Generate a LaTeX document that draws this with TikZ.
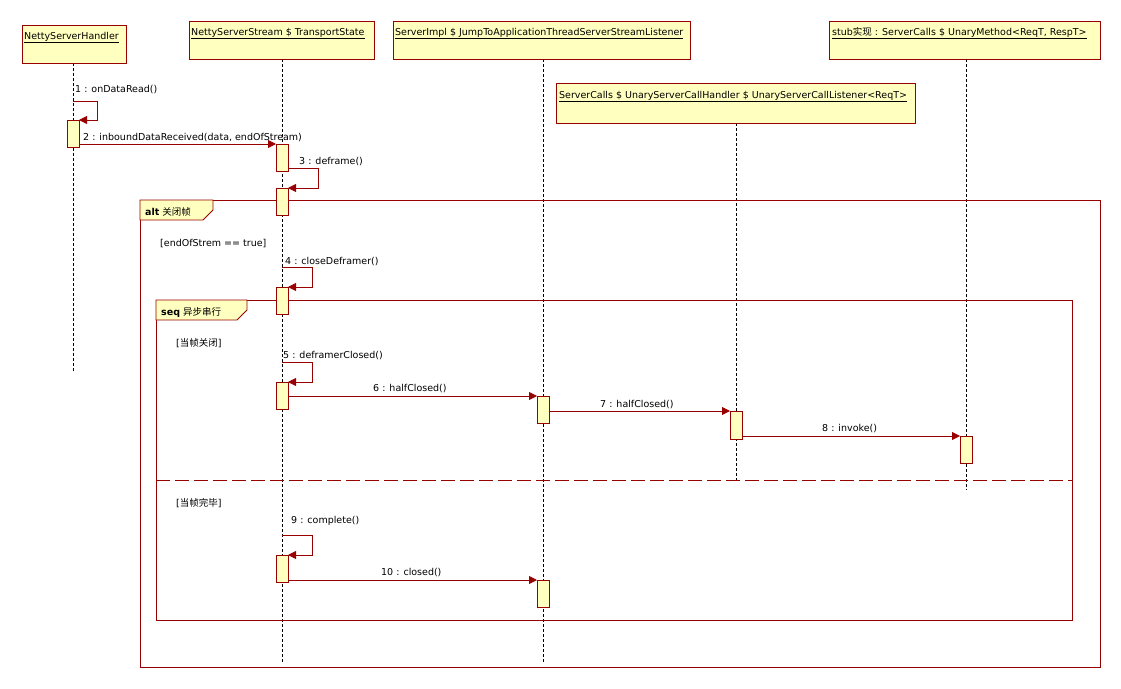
\documentclass[tikz,border=0pt]{standalone}
\usepackage{fontspec}
\setmainfont{DejaVu Sans}
\newfontfamily\cjk{Noto Sans CJK SC}
\usetikzlibrary{arrows.meta}
\definecolor{dr}{HTML}{990000}
\definecolor{yl}{HTML}{FFFFC0}
\begin{document}
\begin{tikzpicture}[x=1pt,y=-1pt,font=\fontsize{9.5}{11}\selectfont,
 obj/.style={draw=dr,fill=yl,line width=0.8pt},
 act/.style={draw=dr,fill=yl,line width=0.8pt},
 life/.style={dashed,dash pattern=on 3pt off 2pt,line width=0.6pt},
 msg/.style={draw=dr,line width=0.8pt,-{Triangle[length=8pt,width=8pt]}},
 frm/.style={draw=dr,line width=0.8pt},
 lbl/.style={inner sep=0pt,anchor=base west},
 hd/.style={inner sep=0pt,anchor=base west}]
\useasboundingbox (0,0) rectangle (1121,688);
% lifelines
\draw[life] (73,63) -- (73,372);
\draw[life] (282,59) -- (282,663);
\draw[life] (543,59) -- (543,663);
\draw[life] (736,123) -- (736,480);
\draw[life] (966,59) -- (966,490);
% objects
\draw[obj] (22,25) rectangle (126,63);
\node[hd] (o1) at (24,39) {\underline{NettyServerHandler}};
\draw[obj] (189,21) rectangle (374,59);
\node[hd] (o2) at (191,35) {\underline{NettyServerStream \$ TransportState}};
\draw[obj] (393,21) rectangle (690,59);
\node[hd] (o3) at (395,35) {\underline{ServerImpl \$ JumpToApplicationThreadServerStreamListener}};
\draw[obj] (556,83) rectangle (915,123);
\node[hd] (o4) at (559,98) {\underline{ServerCalls \$ UnaryServerCallHandler \$ UnaryServerCallListener<ReqT>}};
\draw[obj] (829,21) rectangle (1100,59);
\node[hd] (o5) at (832,35) {\underline{stub{\cjk 实现} : ServerCalls \$ UnaryMethod<ReqT, RespT>}};
% frames
\draw[frm] (140,200) rectangle (1100,667);
\draw[frm,fill=yl] (140,200) -- (213,200) -- (213,210) -- (203,220) -- (140,220) -- cycle;
\node[hd] (f1) at (145,215) {\textbf{alt} {\cjk 关闭帧}};
\node[hd] (g1) at (160,246) {[endOfStrem == true]};
\draw[frm] (156,300) rectangle (1072,620);
\draw[frm,fill=yl] (156,300) -- (247,300) -- (247,310) -- (237,320) -- (156,320) -- cycle;
\node[hd] (f2) at (161,315) {\textbf{seq} {\cjk 异步串行}};
\node[hd] (g2) at (176,346) {[{\cjk 当帧关闭}]};
\draw[draw=dr,line width=0.8pt,dash pattern=on 14pt off 5pt] (156,480) -- (1072,480);
\node[hd] (g3) at (176,506) {[{\cjk 当帧完毕}]};
% message 1
\node[lbl] (m1) at (75,92) {1 : onDataRead()};
\draw[act] (67,120) rectangle (79,147);
\coordinate (c1a) at (73,101); \coordinate (c1b) at (97,101); \coordinate (c1c) at (97,120); \coordinate (c1d) at (79,120);
\draw[msg] (c1a) -- (c1b) -- (c1c) -- (c1d);
% message 2
\node[lbl] (m2) at (83,140) {2 : inboundDataReceived(data, endOfStream)};
\draw[act] (276,144) rectangle (288,171);
\coordinate (c2a) at (79,144); \coordinate (c2b) at (276,144);
\draw[msg] (c2a) -- (c2b);
% message 3
\node[lbl] (m3) at (299,164) {3 : deframe()};
\draw[act] (276,188) rectangle (288,215);
\coordinate (c3a) at (288,168); \coordinate (c3b) at (318,168); \coordinate (c3c) at (318,188); \coordinate (c3d) at (288,188);
\draw[msg] (c3a) -- (c3b) -- (c3c) -- (c3d);
% message 4
\node[lbl] (m4) at (285,264) {4 : closeDeframer()};
\draw[act] (276,287) rectangle (288,314);
\coordinate (c4a) at (282,267); \coordinate (c4b) at (312,267); \coordinate (c4c) at (312,287); \coordinate (c4d) at (288,287);
\draw[msg] (c4a) -- (c4b) -- (c4c) -- (c4d);
% message 5
\node[lbl] (m5) at (283,358) {5 : deframerClosed()};
\draw[act] (276,382) rectangle (288,409);
\coordinate (c5a) at (282,362); \coordinate (c5b) at (312,362); \coordinate (c5c) at (312,382); \coordinate (c5d) at (288,382);
\draw[msg] (c5a) -- (c5b) -- (c5c) -- (c5d);
% message 6
\node[lbl] (m6) at (373,391) {6 : halfClosed()};
\draw[act] (537,396) rectangle (549,423);
\coordinate (c6a) at (288,396); \coordinate (c6b) at (537,396);
\draw[msg] (c6a) -- (c6b);
% message 7
\node[lbl] (m7) at (600,407) {7 : halfClosed()};
\draw[act] (730,411) rectangle (742,439);
\coordinate (c7a) at (549,411); \coordinate (c7b) at (730,411);
\draw[msg] (c7a) -- (c7b);
% message 8
\node[lbl] (m8) at (822,431) {8 : invoke()};
\draw[act] (960,436) rectangle (972,463);
\coordinate (c8a) at (742,436); \coordinate (c8b) at (960,436);
\draw[msg] (c8a) -- (c8b);
% message 9
\node[lbl] (m9) at (291,523) {9 : complete()};
\draw[act] (276,555) rectangle (288,582);
\coordinate (c9a) at (282,535); \coordinate (c9b) at (312,535); \coordinate (c9c) at (312,555); \coordinate (c9d) at (288,555);
\draw[msg] (c9a) -- (c9b) -- (c9c) -- (c9d);
% message 10
\node[lbl] (m10) at (381,575) {10 : closed()};
\draw[act] (537,580) rectangle (549,607);
\coordinate (c10a) at (288,580); \coordinate (c10b) at (537,580);
\draw[msg] (c10a) -- (c10b);
\end{tikzpicture}
\end{document}
